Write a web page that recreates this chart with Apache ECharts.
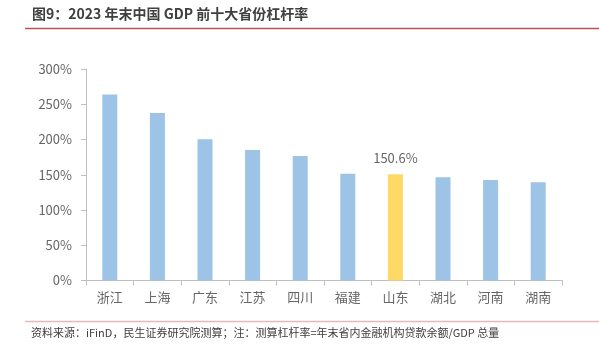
<!DOCTYPE html>
<html><head><meta charset="utf-8">
<script src="https://cdn.jsdelivr.net/npm/echarts@6/dist/echarts.min.js"></script>
<style>html,body{margin:0;padding:0;background:#fff;}#c{width:599px;height:359px;}</style>
</head><body><div id="c"></div>
<script>
var categories = ['浙江','上海','广东','江苏','四川','福建','山东','湖北','河南','湖南'];
var leverage = [264, 237.5, 200.5, 185, 176.5, 151.5, 150.6, 146.5, 142.5, 139.5];
var highlightName = '山东';
var yTicks = [0, 50, 100, 150, 200, 250, 300];
var titleText = '图9：2023 年末中国 GDP 前十大省份杠杆率';
var sourceText = '资料来源：iFinD，民生证券研究院测算；注：测算杠杆率=年末省内金融机构贷款余额/GDP 总量';

var FONT = '"Noto Sans CJK SC", "Noto Sans", sans-serif';
var chart = echarts.init(document.getElementById('c'));
chart.setOption({
  animation: false,
  textStyle: {fontFamily: FONT},
  grid: {left: 86, right: 37, top: 69, bottom: 78.5},
  xAxis: {
    type: 'category', data: categories,
    axisLine: {lineStyle: {color: '#bfbfbf'}},
    axisTick: {show: true, lineStyle: {color: '#bfbfbf'}, length: 5},
    axisLabel: {color: '#666666', fontSize: 13, margin: 10, fontFamily: FONT}
  },
  yAxis: {
    type: 'value', min: yTicks[0], max: yTicks[yTicks.length-1], interval: 50,
    axisLine: {show: true, lineStyle: {color: '#bfbfbf'}},
    axisTick: {show: true, inside: false, lineStyle: {color: '#bfbfbf'}, length: 5},
    splitLine: {show: false},
    axisLabel: {color: '#666666', fontSize: 13, margin: 14, formatter: '{value}%', fontFamily: FONT}
  },
  series: [{
    type: 'bar', barWidth: 15,
    data: leverage.map(function(v, i){
      var hl = categories[i] === highlightName;
      return {
        value: v,
        itemStyle: {color: hl ? '#FFD966' : '#9DC3E6'},
        label: hl ? {show: true, position: 'top', distance: 10, formatter: v.toFixed(1) + '%', color: '#666666', fontSize: 13, fontFamily: FONT} : {show: false}
      };
    })
  }],
  graphic: [
    {type: 'text', left: 32, top: 7, style: {text: titleText, font: 'bold 14px ' + FONT, fill: '#404040'}},
    {type: 'line', shape: {x1: 25, y1: 28.5, x2: 599, y2: 28.5}, style: {stroke: '#C0504D', lineWidth: 1.5}},
    {type: 'line', shape: {x1: 25, y1: 321.5, x2: 599, y2: 321.5}, style: {stroke: '#E6B8B7', lineWidth: 1.5}},
    {type: 'text', left: 31, top: 327, style: {text: sourceText, font: '11px ' + FONT, fill: '#404040'}}
  ]
});
</script></body></html>
